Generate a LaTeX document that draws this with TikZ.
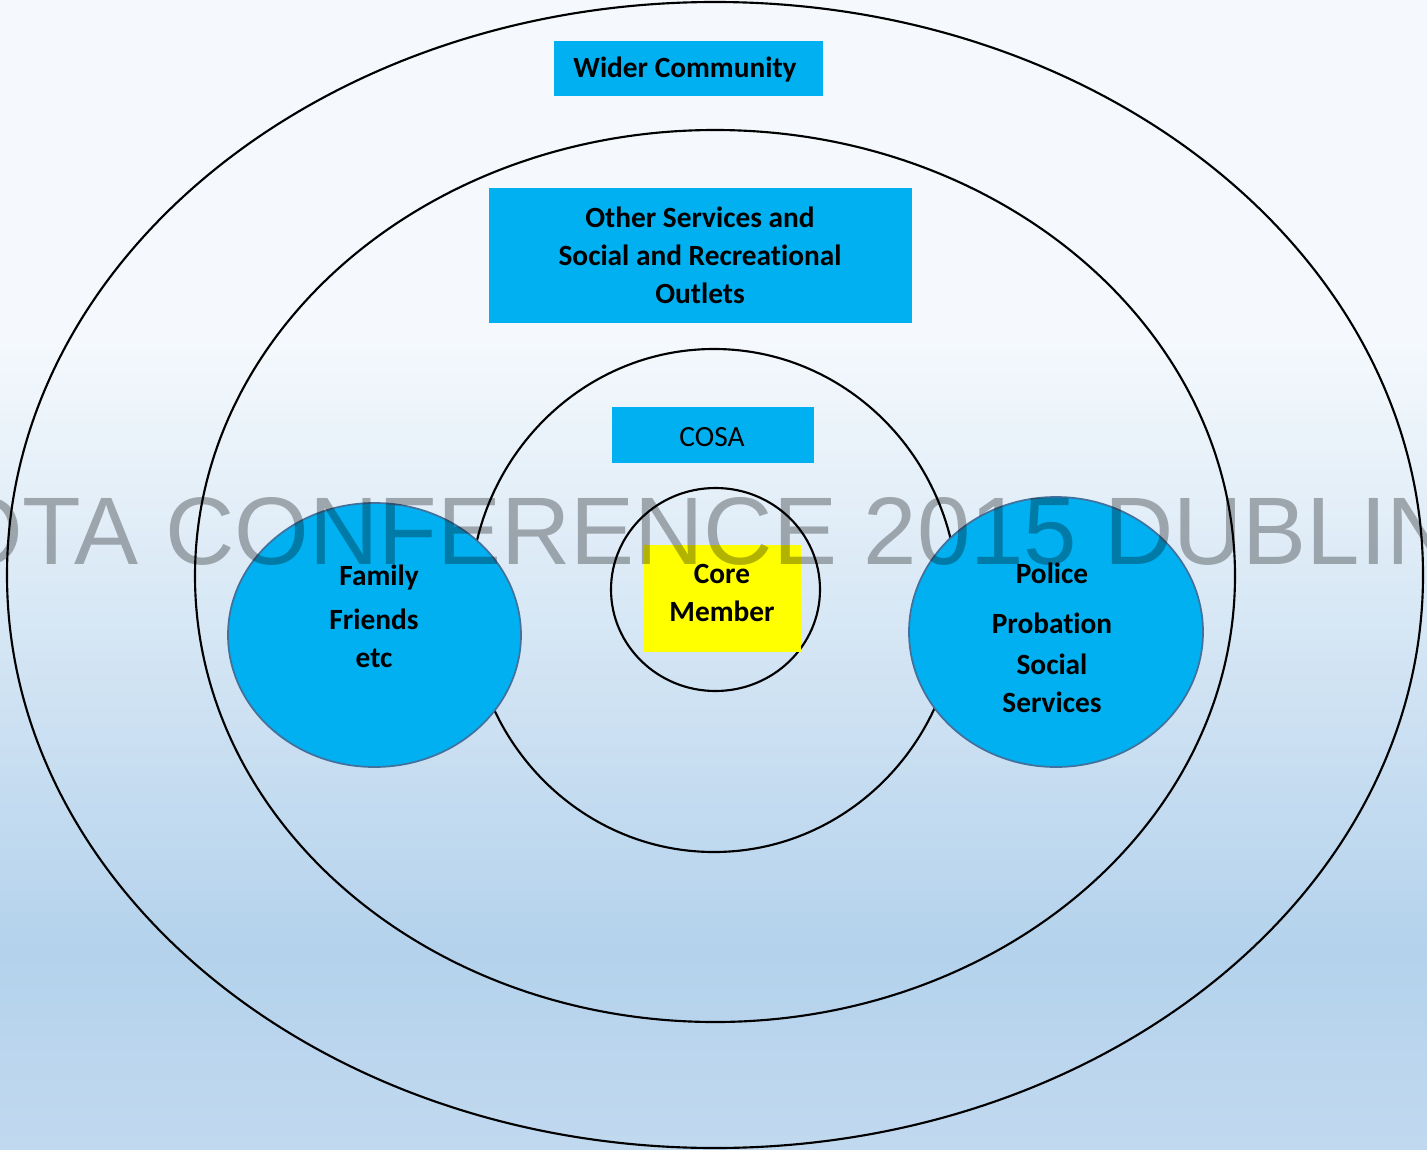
\documentclass[tikz,border=0pt]{standalone}
\usepackage{fontspec}
\setmainfont{Carlito}[Ligatures=NoCommon]
\newfontfamily\wmfont{Liberation Sans}
\usetikzlibrary{shapes.geometric}
\definecolor{boxblue}{RGB}{0,176,240}
\definecolor{ringedge}{RGB}{65,113,156}
\definecolor{coreyellow}{RGB}{255,255,0}
\definecolor{bgA}{RGB}{245,249,253}
\definecolor{bgB}{RGB}{243,248,252}
\definecolor{bgC}{RGB}{180,210,236}
\definecolor{bgD}{RGB}{193,217,239}
\begin{document}
\begin{tikzpicture}[x=0.75pt,y=-0.75pt,
  ring/.style={ellipse,draw=black,line width=1.6pt,inner sep=0pt},
  group/.style={ellipse,draw=ringedge,line width=1.3pt,fill=boxblue,inner sep=0pt},
  labelbox/.style={rectangle,fill=boxblue,inner sep=0pt},
  corebox/.style={rectangle,fill=coreyellow,inner sep=0pt},
  txt/.style={anchor=base,inner sep=0pt,font=\bfseries\fontsize{22}{26}\selectfont},
  plaintxt/.style={anchor=base,inner sep=0pt,font=\fontsize{22}{26}\selectfont},
]
\useasboundingbox (0,0) rectangle (1427,1149);
\clip (0,0) rectangle (1427,1149);
% background
\fill[bgA] (0,0) rectangle (1427,351);
\shade[top color=bgB,bottom color=bgC] (0,350) rectangle (1427,951);
\shade[top color=bgC,bottom color=bgD] (0,950) rectangle (1427,1149);

% rings
\node[ring,minimum width=1062pt,minimum height=859.5pt] (outer) at (715,575) {};
\node[ring,minimum width=780pt,minimum height=669pt] (second) at (715,576) {};
\node[ring,minimum width=366pt,minimum height=377.25pt] (cosaring) at (714,600.5) {};

% side groups
\node[group,minimum width=219.75pt,minimum height=198pt] (family) at (374.5,635) {};
\node[group,minimum width=220.5pt,minimum height=202.5pt] (police) at (1056,632) {};

% core ring
\node[ring,minimum width=156.75pt,minimum height=152.25pt] (corering) at (715.5,589.5) {};

% label boxes
\node[labelbox,minimum width=201.75pt,minimum height=41.25pt] (widerbox) at (688.5,68.5) {};
\node[labelbox,minimum width=317.25pt,minimum height=101.25pt] (otherbox) at (700.5,255.5) {};
\node[labelbox,minimum width=151.5pt,minimum height=42pt] (cosabox) at (713,435) {};
\node[corebox,minimum width=117.75pt,minimum height=80.25pt] (corebox) at (722.5,598.5) {};

% texts
\node[txt] (t1) at (685,78) {Wider Community};
\node[txt] (t2) at (700,227) {Other Services and};
\node[txt] (t3) at (700,265) {Social and Recreational};
\node[txt] (t4) at (700,303) {Outlets};
\node[plaintxt] (t5) at (712,446) {COSA};
\node[txt] (t6) at (722,583) {Core};
\node[txt] (t7) at (722,621) {Member};
\node[txt] (t8) at (379,585) {Family};
\node[txt] (t9) at (374,629) {Friends};
\node[txt] (t10) at (374,667) {etc};
\node[txt] (t11) at (1052,583) {Police};
\node[txt] (t12) at (1052,633) {Probation};
\node[txt] (t13) at (1052,674) {Social};
\node[txt] (t14) at (1052,712) {Services};

% watermark
\node[anchor=base west,inner sep=0pt,font=\wmfont\fontsize{72}{72}\selectfont,text=black,text opacity=0.3] (wm) at (-52,564) {OTA CONFERENCE 2015 DUBLIN};
\end{tikzpicture}
\end{document}
